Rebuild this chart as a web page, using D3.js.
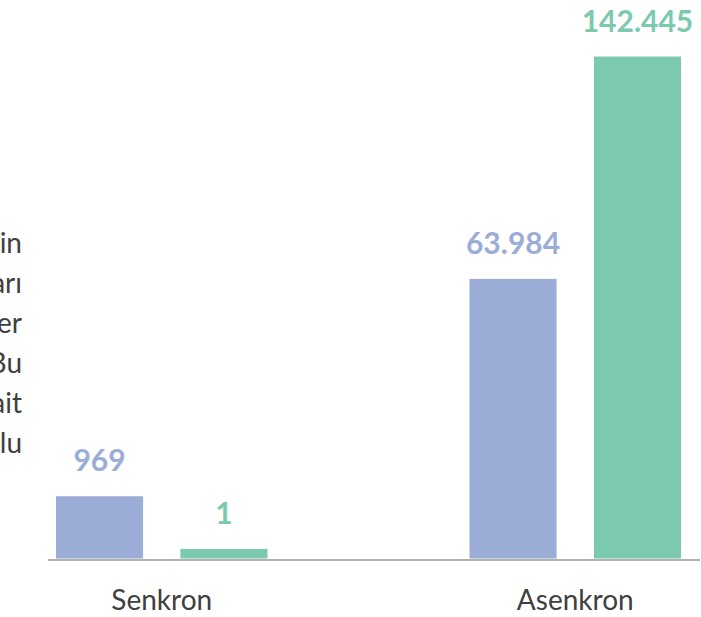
<!DOCTYPE html>
<html>
<head>
<meta charset="utf-8">
<script src="https://cdn.jsdelivr.net/npm/d3@7"></script>
<style>
  body { margin: 0; background: #ffffff; }
  svg { display: block; font-family: Lato, "Open Sans", sans-serif; }
</style>
</head>
<body>
<div id="chart"></div>
<script>
var w = 701;
var h = 617;

// categories and series
var groups = ['Senkron', 'Asenkron'];
var seriesNames = ['A', 'B'];
var seriesColors = ['#9badd7', '#7bcaaf'];

// printed values above the bars
var labelsA = ['969', '63.984'];
var labelsB = ['1', '142.445'];

// drawn bar heights (% of the tallest bar)
var heightsA = [12.4, 55.7];
var heightsB = [1.9, 100];

// clipped paragraph fragments on the left edge
var sideText = ['in', 'arı', 'er', 'Bu', 'ait', 'lu'];

var baseY = 558.5;
var topY = 56.5;

var svg = d3.select('#chart')
  .append('svg')
  .attr('width', w)
  .attr('height', h);

var x0 = d3.scaleBand()
  .domain(groups)
  .range([56, 681])
  .paddingInner(0.4885)
  .paddingOuter(0);

var x1 = d3.scaleBand()
  .domain(seriesNames)
  .range([0, x0.bandwidth()])
  .paddingInner(0.3)
  .paddingOuter(0);

var y = d3.scaleLinear()
  .domain([0, 100])
  .range([baseY, topY]);

var data = [];
groups.forEach(function(g, i) {
  data.push({group: g, series: 'A', height: heightsA[i], label: labelsA[i], color: seriesColors[0]});
  data.push({group: g, series: 'B', height: heightsB[i], label: labelsB[i], color: seriesColors[1]});
});

svg.selectAll('rect.bar')
  .data(data)
  .enter()
  .append('rect')
  .attr('class', 'bar')
  .attr('x', function(d) { return x0(d.group) + x1(d.series); })
  .attr('y', function(d) { return y(d.height); })
  .attr('width', x1.bandwidth())
  .attr('height', function(d) { return baseY - y(d.height); })
  .attr('fill', function(d) { return d.color; });

svg.selectAll('text.val')
  .data(data)
  .enter()
  .append('text')
  .attr('class', 'val')
  .attr('x', function(d) { return x0(d.group) + x1(d.series) + x1.bandwidth() / 2; })
  .attr('y', function(d) { return y(d.height) - 25; })
  .attr('text-anchor', 'middle')
  .attr('font-size', 30)
  .attr('font-weight', 'bold')
  .attr('fill', function(d) { return d.color; })
  .text(function(d) { return d.label; });

// baseline axis
var xAxis = d3.axisBottom(x0).tickSize(0).tickPadding(30);
var gx = svg.append('g')
  .attr('transform', 'translate(0,' + 560 + ')')
  .call(xAxis);
gx.select('.domain')
  .attr('d', 'M48,0H700')
  .attr('stroke', '#b0b0b0')
  .attr('stroke-width', 2);
gx.selectAll('text')
  .attr('font-family', 'Lato, sans-serif')
  .attr('font-size', 28)
  .attr('fill', '#404040');

svg.selectAll('text.side')
  .data(sideText)
  .enter()
  .append('text')
  .attr('class', 'side')
  .attr('x', 22)
  .attr('y', function(d, i) { return 253 + i * 40; })
  .attr('text-anchor', 'end')
  .attr('font-size', 28)
  .attr('fill', '#404040')
  .text(function(d) { return d; });
</script>
</body>
</html>
